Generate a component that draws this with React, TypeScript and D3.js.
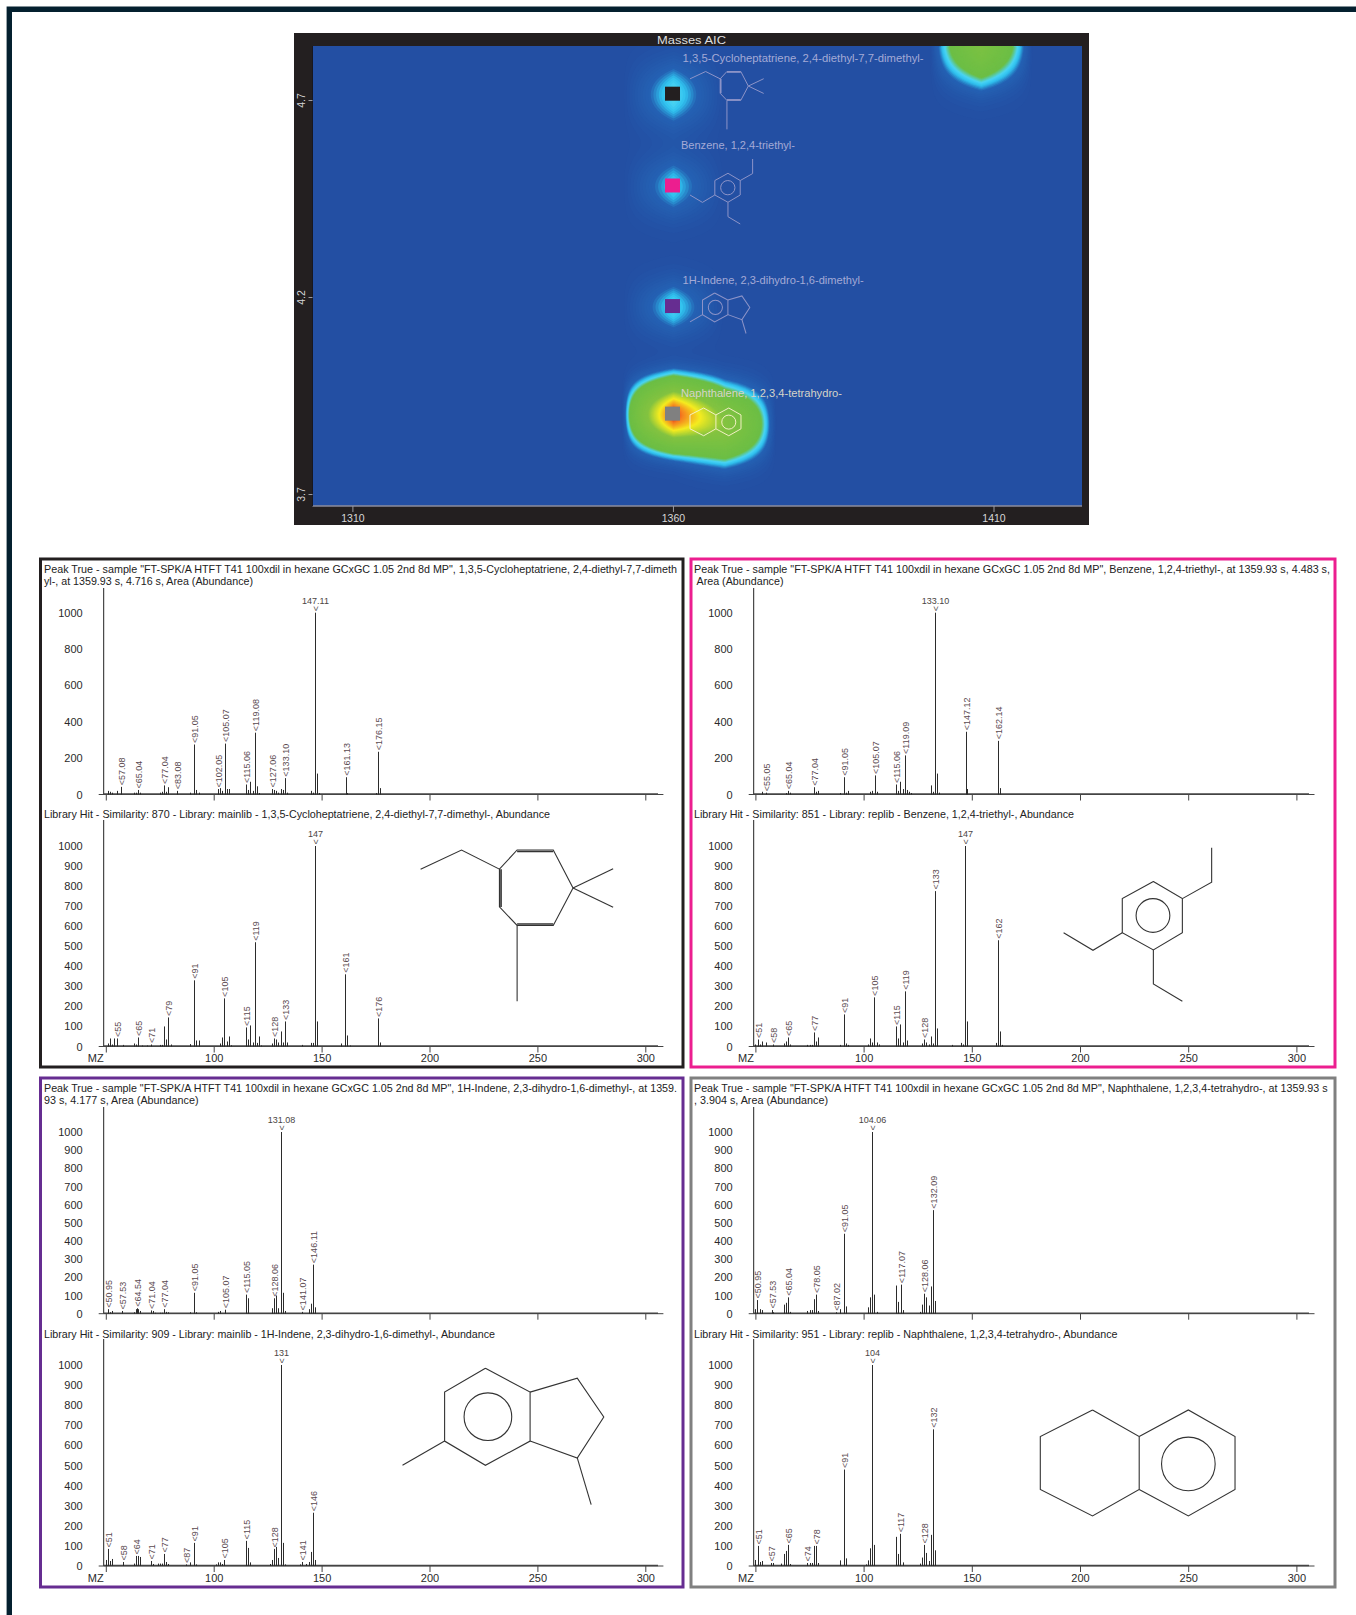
import * as d3 from "d3";
import React, { useEffect, useRef } from "react";

type Peak = [number, number];

// Spectra, [m/z, abundance]
const spectrum1: Peak[] = [[51,20],[52,15],[53,10],[55,20],[57.08,42],[63,10],[64,10],[65.04,25],[66,10],[75,10],[76,15],[77.04,50],[78,15],[79,40],[83.08,20],[89,10],[91.05,275],[92,25],[93,10],[102.05,30],[103,35],[104,20],[105.07,280],[106,30],[107,30],[115.06,55],[116,25],[117,70],[118,20],[119.08,340],[120,45],[121,8],[127.06,30],[128,25],[129,20],[130,10],[131,30],[132,25],[133.1,90],[134,10],[145,20],[146,10],[147.11,1000],[148,115],[149,8],[161.13,95],[162,8],[175,8],[176.15,235],[177,35]];
const library1: Peak[] = [[51,15],[52,40],[53,10],[54,40],[55,40],[58,8],[63,15],[64,10],[65,45],[67,5],[69,5],[71,10],[75,8],[76,8],[77,100],[78,35],[79,145],[80,10],[89,12],[91,330],[92,30],[93,30],[103,15],[104,45],[105,240],[106,25],[107,50],[108,6],[115,95],[116,35],[117,105],[118,20],[119,520],[120,18],[121,50],[122,5],[127,15],[128,40],[129,35],[130,20],[131,75],[132,20],[133,125],[134,20],[141,8],[145,18],[146,18],[147,1000],[148,125],[159,15],[161,360],[162,55],[163,5],[176,140],[177,20]];
const spectrum2: Peak[] = [[53,15],[55.05,10],[64,8],[65.04,20],[66,10],[77.04,40],[78,15],[79,20],[89,8],[91.05,95],[92,10],[93,20],[103,15],[104,20],[105.07,105],[106,15],[115.06,55],[116,20],[117,70],[118,30],[119.09,215],[120,25],[121,15],[122,8],[131,50],[132,15],[133.1,1000],[134,115],[135,10],[147.12,345],[148,30],[162.14,295],[163,35]];
const library2: Peak[] = [[50,10],[51,35],[52,10],[53,25],[55,20],[58,10],[63,15],[64,25],[65,45],[66,10],[74,8],[75,8],[76,8],[77,70],[78,25],[79,45],[89,8],[91,160],[92,15],[93,8],[102,10],[103,40],[104,20],[105,245],[106,20],[107,10],[115,100],[116,40],[117,110],[118,20],[119,275],[120,30],[127,15],[128,35],[129,20],[130,10],[131,50],[132,15],[133,775],[134,90],[141,8],[145,18],[146,10],[147,1000],[148,125],[161,18],[162,530],[163,75],[164,8]];
const spectrum3: Peak[] = [[50.95,25],[52,8],[53,15],[57.53,15],[63,8],[64,25],[64.54,30],[65,25],[66,15],[71.04,18],[72,15],[73,5],[75,5],[76,5],[77.04,25],[78,10],[79,8],[89,8],[91.05,115],[92,8],[102,10],[103,15],[105.07,22],[115.05,105],[116,85],[127,30],[128.06,85],[129,100],[130,30],[131.08,1000],[132,115],[133,15],[141.07,10],[144,25],[145,55],[146.11,270],[147,35]];
const library3: Peak[] = [[50,30],[51,85],[52,25],[53,35],[58,20],[63,12],[64,50],[65,50],[66,45],[71,25],[72,10],[74,12],[75,12],[76,12],[77,60],[78,20],[79,10],[87,8],[89,18],[91,115],[92,8],[101,8],[102,18],[103,18],[104,10],[105,30],[115,125],[116,90],[117,18],[126,10],[127,30],[128,85],[129,95],[130,40],[131,1000],[132,115],[133,8],[140,8],[141,20],[143,10],[144,20],[145,70],[146,265],[147,30]];
const spectrum4: Peak[] = [[50,25],[50.95,75],[52,25],[53,20],[57.53,20],[58,8],[63,50],[64,60],[65.04,90],[66,10],[74,15],[75,20],[76,20],[77,80],[78.05,105],[79,15],[87.02,8],[89,25],[91.05,440],[92,40],[102,35],[103,90],[104.06,1000],[105,105],[106,10],[115,155],[116,65],[117.07,160],[118,20],[126,10],[127,50],[128.06,110],[129,90],[130,45],[131,150],[132.09,570],[133,70]];
const library4: Peak[] = [[50,30],[51,100],[52,20],[53,25],[57,15],[58,15],[62,12],[63,60],[64,75],[65,105],[66,10],[74,15],[75,15],[76,15],[77,100],[78,100],[79,15],[89,28],[91,480],[92,38],[101,8],[102,28],[103,88],[104,1000],[105,105],[115,145],[116,60],[117,160],[118,18],[126,12],[127,42],[128,105],[129,65],[130,25],[131,155],[132,680],[133,78]];

const spectrumLabels1 = ["57.08","65.04","77.04","83.08","91.05","102.05","105.07","115.06","119.08","127.06","133.10","147.11","161.13","176.15"];
const libraryLabels1 = ["55","65","71","79","91","105","115","119","128","133","147","161","176"];
const spectrumLabels2 = ["55.05","65.04","77.04","91.05","105.07","115.06","119.09","133.10","147.12","162.14"];
const libraryLabels2 = ["51","58","65","77","91","105","115","119","128","133","147","162"];
const spectrumLabels3 = ["50.95","57.53","64.54","71.04","77.04","91.05","105.07","115.05","128.06","131.08","141.07","146.11"];
const libraryLabels3 = ["51","58","64","71","77","87","91","105","115","128","131","141","146"];
const spectrumLabels4 = ["50.95","57.53","65.04","78.05","87.02","91.05","104.06","117.07","128.06","132.09"];
const libraryLabels4 = ["51","57","65","74","78","91","104","117","128","132"];

const SAMPLE = 'Peak True - sample "FT-SPK/A HTFT T41 100xdil in hexane GCxGC 1.05 2nd 8d MP", ';
const headerLines = [
  [SAMPLE + "1,3,5-Cycloheptatriene, 2,4-diethyl-7,7-dimeth", "yl-, at 1359.93 s, 4.716 s, Area (Abundance)"],
  [SAMPLE + "Benzene, 1,2,4-triethyl-, at 1359.93 s, 4.483 s,", "Area (Abundance)"],
  [SAMPLE + "1H-Indene, 2,3-dihydro-1,6-dimethyl-, at 1359.", "93 s, 4.177 s, Area (Abundance)"],
  [SAMPLE + "Naphthalene, 1,2,3,4-tetrahydro-, at 1359.93 s", ", 3.904 s, Area (Abundance)"],
];
const libraryLines = [
  "Library Hit - Similarity: 870 - Library: mainlib - 1,3,5-Cycloheptatriene, 2,4-diethyl-7,7-dimethyl-, Abundance",
  "Library Hit - Similarity: 851 - Library: replib - Benzene, 1,2,4-triethyl-, Abundance",
  "Library Hit - Similarity: 909 - Library: mainlib - 1H-Indene, 2,3-dihydro-1,6-dimethyl-, Abundance",
  "Library Hit - Similarity: 951 - Library: replib - Naphthalene, 1,2,3,4-tetrahydro-, Abundance",
];
const compoundNames = [
  "1,3,5-Cycloheptatriene,  2,4-diethyl-7,7-dimethyl-",
  "Benzene, 1,2,4-triethyl-",
  "1H-Indene, 2,3-dihydro-1,6-dimethyl-",
  "Naphthalene, 1,2,3,4-tetrahydro-",
];
const peakColors = ["#231f20", "#ec1e8f", "#662d91", "#808080"];

// Heat map: retention 1, retention 2, height, spread in retention 2
const heatSpots = [
  [1359.93, 4.716, 0.115, 0.06],
  [1359.93, 4.483, 0.1, 0.055],
  [1359.93, 4.177, 0.108, 0.05],
  [1359.93, 3.904, 1.0, 0.05],
  [1367.93, 3.88, 0.5, 0.056],
  [1407.93, 4.85, 0.38, 0.0655],
];
const peakRt1 = [1359.93, 1359.93, 1359.93, 1359.93];
const peakRt2 = [4.716, 4.483, 4.177, 3.904];
const MODULATION = 8;
const heatStops = [0, 0.06, 0.085, 0.105, 0.14, 0.5, 0.72, 0.9, 1];
const heatColors = ["#234fa3", "#2462b4", "#2fc0ee", "#4ad4f4", "#6cbe45", "#84c341", "#f5ec20", "#f58220", "#e0301e"];

// Skeletal formulas, in the pixel size they have in the spectrum panels
type Molecule = { bonds: number[][][]; thick: number[][][]; ring: number[] | null };
const molecules: Molecule[] = [
  {
    bonds: [
      [[0,19.3],[41.2,0],[79.4,19.3],[97.2,0],[133.6,0],[153.5,38.3],[133.6,76],[97.2,76],[79.4,57.3],[79.4,19.3]],
      [[153.5,38.3],[193.9,19]],
      [[153.5,38.3],[193.9,57.7]],
      [[97.2,76],[97.2,152.3]],
    ],
    thick: [[[97.2,1.5],[133.6,1.5]],[[81,19.3],[81,57.3]],[[97.2,74.5],[133.6,74.5]]],
    ring: null,
  },
  {
    bonds: [
      [[90.4,34],[119.6,51.3],[119.6,85.7],[90.4,103],[59.1,85.7],[59.1,51.3],[90.4,34]],
      [[119.6,51.3],[149.1,34.7],[149.1,0]],
      [[59.1,85.7],[29.6,103.3],[0,85.7]],
      [[90.4,103],[90.4,137.3],[119.6,154.7]],
    ],
    thick: [],
    ring: [90, 68.3, 17],
  },
  {
    bonds: [
      [[83.5,0],[128.5,24],[128.5,73.3],[83.5,97.7],[42.4,73.3],[42.4,24],[83.5,0]],
      [[128.5,24],[176,10],[202.7,49],[176,90.3],[128.5,73.3]],
      [[42.4,73.3],[0,97.7]],
      [[176,90.3],[190,137.3]],
    ],
    thick: [],
    ring: [86, 48.7, 24],
  },
  {
    bonds: [
      [[52.6,0],[99.6,26.7],[99.6,80],[52.6,106.7],[0,80],[0,26.7],[52.6,0]],
      [[99.6,26.7],[149.1,0],[196.1,26.7],[196.1,80],[149.1,106.7],[99.6,80]],
    ],
    thick: [],
    ring: [149.1, 54.3, 27],
  },
];

const FONT = "'Liberation Sans', Arial, sans-serif";
const AXIS_TEXT = "#2a2a2a";

// Layout of the four result boxes
const PANELS = [
  { x: 40.5, y: 559, w: 642.5, h: 508, axisX: 103.7, x50: 105.8, x300: 645.3, baseEnd: 663.4, peakEnd: 658, textX: 44, topBase: 794.5, topMax: 612.7, topAxis: 588, libBase: 1046.5, libMax: 846, libAxis: 820, line1Y: 569, line2Y: 581, libY: 814, line1W: 633, line2W: 209, libW: 506, topTicks: 200, molX: 420.6, molY: 850, mzX: 95.7 },
  { x: 691, y: 559, w: 644, h: 508, axisX: 753.7, x50: 755.4, x300: 1296.4, baseEnd: 1314.5, peakEnd: 1309, textX: 694, topBase: 794.5, topMax: 612.7, topAxis: 588, libBase: 1046.5, libMax: 846, libAxis: 820, line1Y: 569, line2Y: 581, libY: 814, line1W: 636, line2W: 87, libW: 380, topTicks: 200, molX: 1063.6, molY: 847.7, mzX: 746 },
  { x: 40.5, y: 1078, w: 642.5, h: 509, axisX: 103.7, x50: 105.8, x300: 645.3, baseEnd: 663.4, peakEnd: 658, textX: 44, topBase: 1313.7, topMax: 1132, topAxis: 1107, libBase: 1566, libMax: 1365, libAxis: 1339, line1Y: 1088, line2Y: 1100, libY: 1334, line1W: 633, line2W: 154.5, libW: 451, topTicks: 100, molX: 402.5, molY: 1368.3, mzX: 95.7 },
  { x: 691, y: 1078, w: 644, h: 509, axisX: 753.7, x50: 755.4, x300: 1296.4, baseEnd: 1314.5, peakEnd: 1309, textX: 694, topBase: 1313.7, topMax: 1132, topAxis: 1107, libBase: 1566, libMax: 1365, libAxis: 1339, line1Y: 1088, line2Y: 1100, libY: 1334, line1W: 633.6, line2W: 134, libW: 423.5, topTicks: 100, molX: 1040.3, molY: 1410, mzX: 746 },
];
const MOLECULE_ON_MAP = [
  { x: 690, y: 71.5, k: 0.38 },
  { x: 690, y: 159, k: 0.42 },
  { x: 690, y: 293, k: 0.295 },
  { x: 690, y: 408, k: 0.26 },
];
const NAME_ON_MAP = [
  { x: 682.6, y: 58.3, w: 241 },
  { x: 681, y: 145, w: 114 },
  { x: 682.6, y: 280, w: 181 },
  { x: 681, y: 393, w: 161 },
];

type Sel = d3.Selection<any, unknown, null, undefined>;

const fitText = (g: Sel, str: string, x: number, y: number, width: number, size = 10.5, fill = "#222") => {
  g.append("text")
    .attr("x", x)
    .attr("y", y)
    .attr("dy", "0.35em")
    .attr("textLength", width)
    .attr("lengthAdjust", "spacingAndGlyphs")
    .attr("font-family", FONT)
    .attr("font-size", size)
    .attr("fill", fill)
    .text(str);
};

const drawMolecule = (g: Sel, mol: Molecule, x: number, y: number, k: number, stroke: string, width: number, opacity = 1) => {
  const m = g.append("g").attr("transform", `translate(${x},${y}) scale(${k})`).attr("opacity", opacity);
  const line = d3.line();
  mol.bonds.forEach((b) => {
    m.append("path").attr("d", line(b as [number, number][])).attr("fill", "none").attr("stroke", stroke).attr("stroke-width", width / k);
  });
  mol.thick.forEach((b) => {
    m.append("path").attr("d", line(b as [number, number][])).attr("fill", "none").attr("stroke", stroke).attr("stroke-width", (width * 1.5) / k);
  });
  if (mol.ring) {
    m.append("circle").attr("cx", mol.ring[0]).attr("cy", mol.ring[1]).attr("r", mol.ring[2]).attr("fill", "none").attr("stroke", stroke).attr("stroke-width", width / k);
  }
};

const drawHeatMap = (svg: Sel) => {
  const left = 312.5, right = 1082, top = 46, bottom = 506;
  const x = d3.scaleLinear().domain([1310, 1410]).range([352.4, 993.5]);
  const y = d3.scaleLinear().domain([3.7, 4.7]).range([494, 100]);
  const g = svg.append("g");

  g.append("rect").attr("x", 294).attr("y", 33).attr("width", 795).attr("height", 492).attr("fill", "#231f20");
  g.append("rect").attr("x", left).attr("y", top).attr("width", right - left).attr("height", bottom - top).attr("fill", heatColors[0]);

  // each modulation column holds a gaussian in retention 2, columns blend linearly
  const res = 2;
  const nx = Math.ceil((right - left) / res);
  const ny = Math.ceil((bottom - top) / res);
  const values = new Float64Array(nx * ny);
  for (let j = 0; j < ny; j++) {
    for (let i = 0; i < nx; i++) {
      const rt1 = x.invert(left + i * res);
      const rt2 = y.invert(top + j * res);
      let v = 0;
      heatSpots.forEach(([a, b, h, s]) => {
        const across = Math.max(0, 1 - Math.abs(rt1 - a) / MODULATION);
        v += h * across * Math.exp(-((rt2 - b) ** 2) / (2 * s * s));
      });
      values[j * nx + i] = v;
    }
  }
  const color = d3.scaleLinear<string>().domain(heatStops).range(heatColors).clamp(true);
  const contours = d3.contours().size([nx, ny]).thresholds(d3.range(0.004, 1.02, 0.006))(values as any);
  const path = d3.geoPath(d3.geoIdentity().scale(res).translate([left, top]) as any);
  svg.append("defs").append("clipPath").attr("id", "plotClip").append("rect")
    .attr("x", left).attr("y", top).attr("width", right - left).attr("height", bottom - top);
  g.append("g").attr("clip-path", "url(#plotClip)")
    .selectAll("path").data(contours).enter().append("path")
    .attr("d", (d: any) => path(d))
    .attr("fill", (d: any) => color(d.value));

  // axes
  g.append("line").attr("x1", left).attr("x2", right).attr("y1", bottom).attr("y2", bottom).attr("stroke", "#8c8c9c").attr("stroke-width", 1.5);
  g.append("line").attr("x1", left).attr("x2", left).attr("y1", top).attr("y2", bottom).attr("stroke", "#17171f").attr("stroke-width", 1);
  const xAxis = g.append("g").attr("transform", `translate(0,${bottom})`)
    .call(d3.axisBottom(x).tickValues([1310, 1360, 1410]).tickSize(6).tickFormat(d3.format("d")) as any);
  const yAxis = g.append("g").attr("transform", `translate(${left},0)`)
    .call(d3.axisLeft(y).tickValues([3.7, 4.2, 4.7]).tickSize(4).tickFormat(d3.format(".1f")) as any);
  xAxis.select(".domain").remove();
  yAxis.select(".domain").remove();
  xAxis.selectAll("line").attr("stroke", "#9a9aa0");
  yAxis.selectAll("line").attr("stroke", "#9a9aa0");
  xAxis.selectAll("text").attr("fill", "#d8d8d8").attr("font-family", FONT).attr("font-size", 10.5).attr("y", 9);
  yAxis.selectAll("text").attr("fill", "#d8d8d8").attr("font-family", FONT).attr("font-size", 10.5)
    .attr("transform", "rotate(-90)").attr("x", 0).attr("y", -11).attr("text-anchor", "middle");

  fitText(g, "Masses  AIC", 657, 39.7, 69, 11, "#dedede");

  // names and formulas over the map, then the peak markers
  compoundNames.forEach((name, i) => {
    const c = i === 3 ? "#d6d4c8" : "#a4aad6";
    fitText(g, name, NAME_ON_MAP[i].x, NAME_ON_MAP[i].y, NAME_ON_MAP[i].w, 10.5, c);
    const stroke = i === 3 ? "#f2f0c4" : "#8d94c8";
    drawMolecule(g, molecules[i], MOLECULE_ON_MAP[i].x, MOLECULE_ON_MAP[i].y, MOLECULE_ON_MAP[i].k, stroke, 1);
    g.append("rect")
      .attr("x", x(peakRt1[i]) - 7.5)
      .attr("y", y(peakRt2[i]) - 7)
      .attr("width", 15)
      .attr("height", 14)
      .attr("fill", peakColors[i]);
  });
};

const drawSpectrum = (
  parent: Sel,
  p: (typeof PANELS)[number],
  peaks: Peak[],
  labels: string[],
  base: number,
  max: number,
  axisTop: number,
  tickStep: number,
  showMz: boolean
) => {
  const g = parent.append("g");
  const x = d3.scaleLinear().domain([50, 300]).range([p.x50, p.x300]);
  const y = d3.scaleLinear().domain([0, 1000]).range([base, max]);

  const yAxis = g.append("g").attr("transform", `translate(${p.axisX - 18},0)`)
    .call(d3.axisLeft(y).tickValues(d3.range(0, 1001, tickStep)).tickSize(0) as any);
  yAxis.select(".domain").remove();
  yAxis.selectAll("text").attr("font-family", FONT).attr("font-size", 11).attr("fill", AXIS_TEXT);
  yAxis.selectAll("text").text((d: any) => String(d));

  g.append("line").attr("x1", p.axisX).attr("x2", p.axisX).attr("y1", axisTop).attr("y2", base).attr("stroke", "#222").attr("stroke-width", 1);

  const xAxis = g.append("g").attr("transform", `translate(0,${base})`)
    .call(d3.axisBottom(x).tickValues(d3.range(50, 301, 50)).tickSize(6) as any);
  xAxis.select(".domain").remove();
  xAxis.selectAll("line").attr("stroke", "#444");
  xAxis.selectAll("text").attr("font-family", FONT).attr("font-size", 11).attr("fill", AXIS_TEXT).attr("y", 8);
  if (showMz) {
    xAxis.selectAll("g.tick").filter((d: any) => d === 50).select("text").text("");
    g.append("text").attr("x", p.mzX).attr("y", base + 8).attr("dy", "0.71em").attr("text-anchor", "middle")
      .attr("font-family", FONT).attr("font-size", 11).attr("fill", AXIS_TEXT).text("MZ");
  } else {
    xAxis.selectAll("text").remove();
  }

  g.append("line").attr("x1", p.axisX - 5).attr("x2", p.baseEnd).attr("y1", base).attr("y2", base).attr("stroke", "#444").attr("stroke-width", 1);
  g.append("line").attr("x1", p.axisX).attr("x2", p.peakEnd).attr("y1", base - 0.5).attr("y2", base - 0.5).attr("stroke", "#444").attr("stroke-width", 1.5);

  g.selectAll("line.peak").data(peaks).enter().append("line")
    .attr("class", "peak")
    .attr("x1", (d: Peak) => Math.round(x(d[0])) + 0.5)
    .attr("x2", (d: Peak) => Math.round(x(d[0])) + 0.5)
    .attr("y1", base)
    .attr("y2", (d: Peak) => y(d[1]))
    .attr("stroke", "#2b2b2b")
    .attr("stroke-width", 1);

  labels.forEach((label) => {
    const mz = parseFloat(label);
    const peak = d3.least(peaks, (d) => Math.abs(d[0] - mz)) as Peak;
    const px = Math.round(x(peak[0])) + 0.5;
    const py = y(peak[1]);
    if (peak[1] >= 1000) {
      g.append("text").attr("x", px).attr("y", py - 9).attr("text-anchor", "middle")
        .attr("font-family", FONT).attr("font-size", 9).attr("fill", "#4a4444").text(label);
      g.append("text").attr("transform", `translate(${px + 3},${py - 1.5}) rotate(-90)`)
        .attr("font-family", FONT).attr("font-size", 9).attr("fill", "#4a4444").text("<");
    } else {
      g.append("text").attr("transform", `translate(${px + 3},${py - 1.5}) rotate(-90)`)
        .attr("font-family", FONT).attr("font-size", 9).attr("fill", "#5a4a50").text(`<${label}`);
    }
  });
};

const drawPanels = (svg: Sel) => {
  const spectra = [spectrum1, spectrum2, spectrum3, spectrum4];
  const libraries = [library1, library2, library3, library4];
  const spectrumLabels = [spectrumLabels1, spectrumLabels2, spectrumLabels3, spectrumLabels4];
  const libraryLabels = [libraryLabels1, libraryLabels2, libraryLabels3, libraryLabels4];

  PANELS.forEach((p, i) => {
    const g = svg.append("g");
    g.append("rect").attr("x", p.x).attr("y", p.y).attr("width", p.w).attr("height", p.h)
      .attr("fill", "#fff").attr("stroke", peakColors[i]).attr("stroke-width", 3);

    fitText(g, headerLines[i][0], p.textX, p.line1Y, p.line1W);
    fitText(g, headerLines[i][1], p.textX + (i === 1 ? 2.5 : 0), p.line2Y, p.line2W);
    fitText(g, libraryLines[i], p.textX, p.libY, p.libW);

    drawSpectrum(g, p, spectra[i], spectrumLabels[i], p.topBase, p.topMax, p.topAxis, p.topTicks, false);
    drawSpectrum(g, p, libraries[i], libraryLabels[i], p.libBase, p.libMax, p.libAxis, 100, true);
    drawMolecule(g, molecules[i], p.molX, p.molY, 0.993, "#333", 1.1);
  });
};

const App: React.FC = () => {
  const svgRef = useRef<SVGSVGElement>(null);

  useEffect(() => {
    const svg = d3.select(svgRef.current) as unknown as Sel;
    svg.selectAll("*").remove();

    svg.append("rect").attr("width", 1356).attr("height", 1615).attr("fill", "#fff");
    svg.append("path").attr("d", "M9.3,1615V9.3H1356").attr("fill", "none").attr("stroke", "#04202f").attr("stroke-width", 5.4);

    drawHeatMap(svg);
    drawPanels(svg);
  }, []);

  return (
    <svg
      ref={svgRef}
      width={1356}
      height={1615}
      style={{ position: "absolute", left: 0, top: 0, display: "block" }}
    />
  );
};

export default App;
